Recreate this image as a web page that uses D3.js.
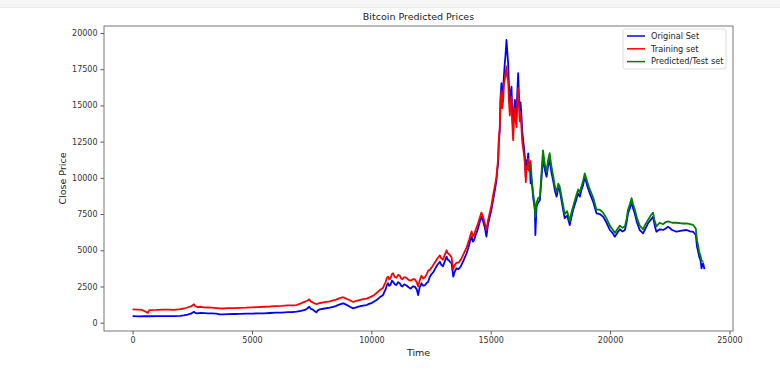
<!DOCTYPE html>
<html>
<head>
<meta charset="utf-8">
<script src="https://cdn.jsdelivr.net/npm/d3@7/dist/d3.min.js"></script>
<style>
  html, body { margin: 0; padding: 0; background: #fff; }
  svg { display: block; font-family: "DejaVu Sans", sans-serif; }
</style>
</head>
<body>
<svg id="chart" width="780" height="379"></svg>
<script>
// data (time index, close price)
var origTime = [0, 250, 500, 750, 1000, 1250, 1500, 1750, 2000, 2150, 2300, 2470, 2570, 2620, 2700, 2850, 3000, 3150, 3300, 3500, 3650, 3800, 4000, 4250, 4500, 4750, 5000, 5250, 5500, 5750, 6000, 6250, 6500, 6700, 6870, 7050, 7220, 7300, 7400, 7470, 7550, 7620, 7700, 7760, 7840, 8050, 8260, 8400, 8500, 8650, 8820, 8900, 9000, 9100, 9240, 9370, 9500, 9650, 9800, 9900, 10000, 10100, 10220, 10350, 10490, 10550, 10600, 10650, 10700, 10750, 10800, 10860, 10910, 10980, 11050, 11120, 11190, 11250, 11300, 11380, 11470, 11560, 11650, 11740, 11820, 11900, 11960, 12020, 12100, 12170, 12250, 12320, 12380, 12450, 12520, 12600, 12680, 12750, 12870, 12930, 13000, 13080, 13150, 13200, 13250, 13300, 13360, 13400, 13430, 13500, 13570, 13650, 13750, 13850, 13990, 14050, 14100, 14150, 14200, 14250, 14300, 14380, 14450, 14530, 14610, 14660, 14700, 14760, 14820, 14880, 14960, 15030, 15100, 15170, 15240, 15280, 15310, 15340, 15380, 15410, 15450, 15480, 15520, 15550, 15590, 15620, 15660, 15690, 15730, 15760, 15800, 15830, 15870, 15900, 15940, 15970, 16010, 16040, 16080, 16110, 16150, 16180, 16220, 16250, 16290, 16320, 16360, 16400, 16430, 16470, 16500, 16540, 16570, 16600, 16640, 16670, 16710, 16780, 16850, 16870, 16920, 16990, 17060, 17120, 17190, 17260, 17340, 17400, 17470, 17540, 17610, 17690, 17760, 17830, 17890, 18000, 18100, 18200, 18310, 18380, 18450, 18550, 18660, 18730, 18800, 18870, 18940, 19050, 19150, 19300, 19430, 19570, 19710, 19850, 19990, 20100, 20200, 20300, 20410, 20520, 20620, 20690, 20750, 20830, 20900, 20960, 21030, 21130, 21240, 21300, 21380, 21480, 21590, 21700, 21800, 21870, 21940, 22080, 22220, 22330, 22430, 22600, 22780, 23000, 23200, 23350, 23480, 23590, 23640, 23690, 23730, 23790, 23830, 23900, 23950];
var origPrice = [460, 440, 450, 445, 455, 450, 460, 455, 470, 500, 560, 650, 760, 680, 640, 670, 660, 640, 650, 620, 580, 570, 590, 600, 610, 620, 630, 640, 650, 670, 690, 700, 730, 740, 760, 820, 880, 960, 1100, 950, 900, 800, 720, 850, 925, 980, 1035, 1100, 1150, 1250, 1340, 1280, 1200, 1105, 990, 1060, 1120, 1180, 1220, 1300, 1350, 1450, 1570, 1750, 1910, 2150, 2300, 2600, 2720, 2550, 2600, 2900, 2830, 2650, 2600, 2800, 2720, 2550, 2500, 2650, 2570, 2450, 2350, 2500, 2490, 2300, 1910, 2400, 2720, 2550, 2600, 2750, 2830, 3175, 3350, 3500, 3750, 3950, 4210, 4000, 3900, 4250, 4560, 4350, 4300, 4200, 4100, 3600, 3175, 3550, 3755, 3700, 3900, 4250, 4790, 5100, 5400, 5700, 5940, 5600, 5700, 6100, 6400, 6900, 7320, 7100, 6900, 6500, 5940, 6700, 7320, 7800, 8470, 9100, 9850, 10600, 11000, 12500, 13300, 15500, 16530, 15200, 15800, 17000, 17910, 18500, 19520, 18800, 17910, 16500, 15150, 15800, 16290, 14500, 13300, 14600, 15380, 14700, 14220, 15800, 17220, 15800, 14690, 15200, 14220, 13200, 12610, 12000, 11460, 10080, 11230, 11000, 11690, 10900, 11000, 9620, 9850, 8600, 7780, 6050, 8010, 8300, 8470, 9800, 11460, 10600, 10080, 10800, 11230, 10400, 9850, 9100, 8700, 9300, 9160, 8100, 7210, 7400, 6740, 7300, 7780, 8300, 8930, 8700, 9160, 9500, 10080, 9400, 8930, 8300, 7550, 7500, 7320, 6900, 6400, 6200, 5940, 6200, 6450, 6300, 6400, 6900, 7550, 7900, 8350, 7900, 7550, 6900, 6400, 6300, 6170, 6500, 6860, 7100, 7320, 6700, 6280, 6450, 6400, 6500, 6630, 6400, 6280, 6350, 6400, 6300, 6280, 6050, 5250, 4900, 4560, 4300, 3755, 4100, 3700];

var trainTime = [0, 250, 400, 640, 700, 1000, 1250, 1500, 1750, 2000, 2150, 2300, 2470, 2570, 2620, 2700, 2850, 3000, 3150, 3300, 3500, 3650, 3800, 4000, 4250, 4500, 4750, 5000, 5250, 5500, 5750, 6000, 6250, 6500, 6700, 6870, 7050, 7220, 7300, 7400, 7470, 7550, 7620, 7700, 7760, 7840, 8050, 8260, 8400, 8500, 8650, 8820, 8900, 9000, 9100, 9240, 9370, 9500, 9650, 9800, 9900, 10000, 10100, 10220, 10350, 10490, 10550, 10600, 10650, 10700, 10750, 10800, 10860, 10910, 10980, 11050, 11120, 11190, 11250, 11300, 11380, 11470, 11560, 11650, 11740, 11820, 11900, 11960, 12020, 12100, 12170, 12250, 12320, 12380, 12450, 12520, 12600, 12680, 12750, 12870, 12930, 13000, 13080, 13150, 13200, 13250, 13300, 13360, 13400, 13430, 13500, 13570, 13650, 13750, 13850, 13990, 14050, 14100, 14150, 14200, 14250, 14300, 14380, 14450, 14530, 14610, 14660, 14700, 14760, 14820, 14880, 14960, 15030, 15100, 15170, 15240, 15280, 15310, 15340, 15380, 15410, 15450, 15480, 15520, 15550, 15590, 15620, 15660, 15690, 15730, 15760, 15800, 15830, 15870, 15900, 15940, 15970, 16010, 16040, 16080, 16110, 16150, 16180, 16220, 16250, 16290, 16320, 16360, 16400, 16430, 16470, 16500, 16540, 16570, 16600, 16640, 16680];
var trainPrice = [920, 900, 880, 680, 870, 880, 900, 900, 890, 930, 980, 1050, 1150, 1270, 1150, 1080, 1100, 1060, 1050, 1040, 1010, 990, 980, 1000, 1010, 1030, 1040, 1060, 1080, 1100, 1120, 1150, 1160, 1190, 1200, 1220, 1330, 1450, 1500, 1615, 1450, 1400, 1330, 1290, 1320, 1360, 1420, 1480, 1540, 1580, 1680, 1760, 1700, 1620, 1550, 1430, 1500, 1560, 1620, 1660, 1730, 1800, 1900, 2050, 2250, 2400, 2650, 2800, 3100, 3175, 3000, 3050, 3350, 3410, 3150, 3100, 3300, 3250, 3050, 3000, 3150, 3100, 2950, 2900, 3000, 3000, 2800, 2500, 2900, 3250, 3050, 3150, 3350, 3600, 3650, 3800, 4000, 4200, 4400, 4650, 4450, 4350, 4700, 5000, 4800, 4750, 4650, 4500, 4050, 3700, 4000, 4150, 4150, 4350, 4700, 5200, 5500, 5750, 6050, 6300, 5950, 6050, 6450, 6750, 7200, 7600, 7400, 7200, 6800, 6400, 7000, 7600, 8100, 8800, 9400, 10100, 10800, 11300, 12700, 13500, 15200, 16000, 14800, 15300, 16400, 16800, 17200, 17700, 17000, 16700, 15400, 14300, 15000, 15600, 13800, 12600, 13900, 14800, 14000, 13500, 15000, 16200, 15000, 13900, 14400, 13400, 12500, 12000, 11500, 11000, 9700, 10800, 10600, 11300, 10500, 10700, 11200];

var testTime = [16680, 16710, 16780, 16850, 16870, 16920, 16990, 17060, 17120, 17190, 17260, 17340, 17400, 17470, 17540, 17610, 17690, 17760, 17830, 17890, 18000, 18100, 18200, 18310, 18380, 18450, 18550, 18660, 18730, 18800, 18870, 18940, 19050, 19150, 19300, 19430, 19570, 19710, 19850, 19990, 20100, 20200, 20300, 20410, 20520, 20620, 20690, 20750, 20830, 20900, 20960, 21030, 21130, 21240, 21300, 21380, 21480, 21590, 21700, 21800, 21870, 21940, 22080, 22220, 22330, 22430, 22600, 22780, 23000, 23200, 23350, 23480, 23590, 23640, 23690, 23730, 23790, 23830, 23900];
var testPrice = [11000, 10100, 8900, 8000, 7300, 8300, 8600, 8700, 10200, 11900, 11000, 10400, 11200, 11700, 10800, 10200, 9400, 9000, 9600, 9400, 8400, 7500, 7700, 7000, 7600, 8000, 8600, 9200, 9000, 9400, 9800, 10300, 9700, 9200, 8600, 7800, 7800, 7600, 7200, 6700, 6450, 6200, 6450, 6700, 6550, 6650, 7150, 7800, 8200, 8600, 8200, 7850, 7200, 6700, 6600, 6450, 6800, 7100, 7400, 7600, 7000, 6650, 6900, 6800, 6950, 7000, 6900, 6900, 6850, 6850, 6800, 6750, 6500, 5700, 5300, 4900, 4600, 4300, 4200];

var xTicks = [0, 5000, 10000, 15000, 20000, 25000];
var yTicks = [0, 2500, 5000, 7500, 10000, 12500, 15000, 17500, 20000];
var seriesNames = ["Original Set", "Training set", "Predicted/Test set"];
var seriesColors = ["#0000ff", "#ff0000", "#008000"];

var svg = d3.select("#chart");
var box = {left: 104, right: 733, top: 26, bottom: 331};

// faint browser strip at the very top
svg.append("rect").attr("x", 0).attr("y", 0).attr("width", 780).attr("height", 7).attr("fill", "#f6f6f6");
svg.append("line").attr("x1", 0).attr("x2", 780).attr("y1", 7.5).attr("y2", 7.5).attr("stroke", "#ececec");

var x = d3.scaleLinear().domain([-1198, 25148]).range([box.left, box.right]);
var y = d3.scaleLinear().domain([-573, 20483]).range([box.bottom, box.top]);

var gx = svg.append("g").attr("transform", "translate(0," + box.bottom + ")")
    .call(d3.axisBottom(x).tickValues(xTicks).tickSize(3.5).tickPadding(3).tickFormat(d3.format("d")));
var gy = svg.append("g").attr("transform", "translate(" + box.left + ",0)")
    .call(d3.axisLeft(y).tickValues(yTicks).tickSize(3.5).tickPadding(3).tickFormat(d3.format("d")));
[gx, gy].forEach(function (g) {
    g.select(".domain").remove();
    g.selectAll(".tick line").attr("stroke", "#555");
    g.selectAll(".tick text").attr("fill", "#333").style("font-size", "8px").style("font-family", "DejaVu Sans");
});

svg.append("clipPath").attr("id", "clip").append("rect")
    .attr("x", box.left).attr("y", box.top).attr("width", box.right - box.left).attr("height", box.bottom - box.top);

var line = d3.line().x(function (d) { return x(d[0]); }).y(function (d) { return y(d[1]); });
var series = [d3.zip(origTime, origPrice), d3.zip(trainTime, trainPrice), d3.zip(testTime, testPrice)];
svg.append("g").attr("clip-path", "url(#clip)").selectAll("path")
    .data(series)
    .enter()
    .append("path")
    .attr("d", line)
    .attr("fill", "none")
    .attr("stroke", function (d, i) { return seriesColors[i]; })
    .attr("stroke-width", 1.8)
    .attr("stroke-linejoin", "round");

// frame
svg.append("rect").attr("x", box.left).attr("y", box.top)
    .attr("width", box.right - box.left).attr("height", box.bottom - box.top)
    .attr("fill", "none").attr("stroke", "#777").attr("stroke-width", 1);

svg.append("text").attr("x", (box.left + box.right) / 2).attr("y", 20)
    .attr("text-anchor", "middle").style("font-size", "9.5px").attr("fill", "#222")
    .text("Bitcoin Predicted Prices");
svg.append("text").attr("x", (box.left + box.right) / 2).attr("y", 356)
    .attr("text-anchor", "middle").style("font-size", "9.5px").attr("fill", "#222")
    .text("Time");
svg.append("text").attr("transform", "translate(66," + (box.top + box.bottom) / 2 + ") rotate(-90)")
    .attr("text-anchor", "middle").style("font-size", "9.5px").attr("fill", "#222")
    .text("Close Price");

// legend
var lg = svg.append("g").attr("transform", "translate(623,29)");
lg.append("rect").attr("width", 103).attr("height", 40).attr("rx", 2)
    .attr("fill", "#fff").attr("fill-opacity", 0.8).attr("stroke", "#ddd");
var rows = lg.selectAll("g.row").data(seriesNames).enter().append("g")
    .attr("transform", function (d, i) { return "translate(0," + (7 + i * 12.8) + ")"; });
rows.append("line").attr("x1", 4).attr("x2", 22).attr("stroke", function (d, i) { return seriesColors[i]; }).attr("stroke-width", 1.5);
rows.append("text").attr("x", 28).attr("dy", "0.35em").style("font-size", "8.2px").attr("fill", "#222").text(function (d) { return d; });
</script>
</body>
</html>
